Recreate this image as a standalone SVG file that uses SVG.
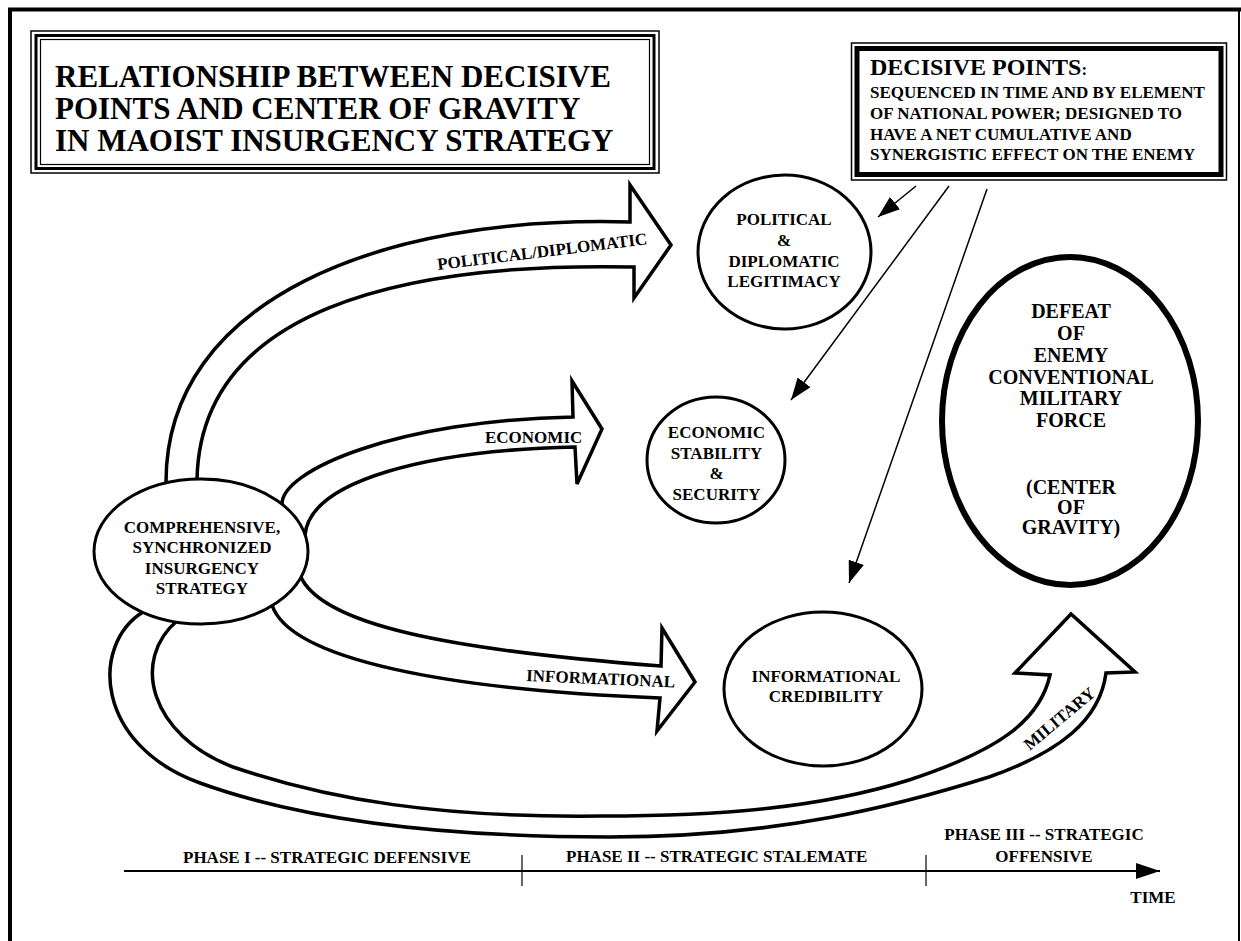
<svg xmlns="http://www.w3.org/2000/svg" width="1241" height="941" viewBox="0 0 1241 941" font-family="'Liberation Serif', 'DejaVu Serif', serif">
<style>
text{font-family:'Liberation Serif','DejaVu Serif',serif;font-weight:bold;fill:#000}
.t17{font-size:17px}
.c{text-anchor:middle}
.node{fill:#fff;stroke:#000;stroke-width:3}
.flow{fill:#fff;stroke:#000;stroke-width:3.5;stroke-linejoin:miter}
.thin{fill:none;stroke:#000;stroke-width:1.5}
</style>
<defs>
<marker id="ah" markerUnits="userSpaceOnUse" markerWidth="22" markerHeight="16" refX="22" refY="8" orient="auto">
<path d="M0,0 L22,8 L0,16 z" fill="#000"/>
</marker>
<marker id="th" markerUnits="userSpaceOnUse" markerWidth="24" markerHeight="16" refX="24" refY="8" orient="auto">
<path d="M0,0 L24,8 L0,16 z" fill="#000"/>
</marker>
</defs>
<rect width="1241" height="941" fill="#fff"/>
<g id="frame">
<line x1="8" y1="9.5" x2="1241" y2="9.5" stroke="#000" stroke-width="4"/>
<line x1="10" y1="8" x2="10" y2="941" stroke="#000" stroke-width="4"/>
<line x1="1239" y1="8" x2="1239" y2="941" stroke="#000" stroke-width="2"/>
</g>
<g id="title">
<rect x="31" y="31" width="628" height="142" fill="#fff" stroke="#000" stroke-width="1.5"/>
<rect x="36" y="35.5" width="618" height="133" fill="none" stroke="#000" stroke-width="3"/>
<rect x="40.5" y="39.5" width="609" height="125" fill="none" stroke="#000" stroke-width="1.2"/>
<text x="55" y="87" font-size="31">RELATIONSHIP BETWEEN DECISIVE</text>
<text x="55" y="119" font-size="31">POINTS AND CENTER OF GRAVITY</text>
<text x="55" y="151" font-size="31">IN MAOIST INSURGENCY STRATEGY</text>
</g>
<g id="decisive-points">
<rect x="851.5" y="43" width="375" height="137" fill="#fff" stroke="#000" stroke-width="1.5"/>
<rect x="857" y="48.5" width="364" height="126" fill="none" stroke="#000" stroke-width="5"/>
<text x="870" y="75" font-size="24">DECISIVE POINTS<tspan font-size="17">:</tspan></text>
<text class="t17" x="870" y="98">SEQUENCED IN TIME AND BY ELEMENT</text>
<text class="t17" x="870" y="119">OF NATIONAL POWER; DESIGNED TO</text>
<text class="t17" x="870" y="140">HAVE A NET CUMULATIVE AND</text>
<text class="t17" x="870" y="160">SYNERGISTIC EFFECT ON THE ENEMY</text>
</g>
<g id="flows">
<path id="flow-military" class="flow" d="M143,612 C90,645 95,745 200,783 C305,821 450,837 609,837 C780,837 900,805 989,777 C1060,752 1100,720 1106,673 L1135,672 L1071,614 L1015,673 L1050,675 C1040,720 1000,750 909,780 C820,808 720,816 602,816 C440,818 330,800 233,767 C150,735 130,660 178,620 L165,600 Z"/>
<path id="flow-informational" class="flow" d="M290,580 L300,575 C320,625 450,650 661,666 L662,628 L695,682 L657,731 L660,698 C450,690 290,660 272,605 L285,590 Z"/>
<path id="flow-economic" class="flow" d="M280,515 L282,505 C280,470 400,420 573,417 L572,381 L602,429 L577,484 L575,447 C430,450 310,480 305,535 L295,540 Z"/>
<path id="flow-political" class="flow" d="M166,495 L166,482 C166,300 380,215 630,222 L630,185 L671,245 L634,298 L634,267 C400,262 200,310 197,480 L197,495 Z"/>
<text class="t17" x="438" y="270" transform="rotate(-7 438 270)">POLITICAL/DIPLOMATIC</text>
<text class="t17" x="485" y="443">ECONOMIC</text>
<text class="t17" x="526" y="681" transform="rotate(2.5 526 681)">INFORMATIONAL</text>
<text class="t17 c" x="1063" y="723" transform="rotate(-40 1063 723)">MILITARY</text>
</g>
<g id="strategy">
<ellipse class="node" cx="201" cy="551.5" rx="107" ry="72.5"/>
<text class="t17 c" x="202" y="533">COMPREHENSIVE,</text>
<text class="t17 c" x="202" y="553">SYNCHRONIZED</text>
<text class="t17 c" x="202" y="574">INSURGENCY</text>
<text class="t17 c" x="202" y="594">STRATEGY</text>
</g>
<g id="political">
<ellipse class="node" cx="784.5" cy="252" rx="86.5" ry="77"/>
<text class="t17 c" x="784" y="225">POLITICAL</text>
<text class="t17 c" x="784" y="246">&amp;</text>
<text class="t17 c" x="784" y="267">DIPLOMATIC</text>
<text class="t17 c" x="784" y="287">LEGITIMACY</text>
</g>
<g id="economic">
<ellipse class="node" cx="716" cy="460" rx="69" ry="63"/>
<text class="t17 c" x="716.5" y="438">ECONOMIC</text>
<text class="t17 c" x="716.5" y="459">STABILITY</text>
<text class="t17 c" x="716.5" y="479">&amp;</text>
<text class="t17 c" x="716.5" y="500">SECURITY</text>
</g>
<g id="informational">
<ellipse class="node" cx="823" cy="689" rx="99" ry="77"/>
<text class="t17 c" x="826" y="682">INFORMATIONAL</text>
<text class="t17 c" x="826" y="702">CREDIBILITY</text>
</g>
<g id="center-of-gravity">
<ellipse cx="1070" cy="421" rx="128" ry="164" fill="#fff" stroke="#000" stroke-width="6"/>
<g font-size="20" text-anchor="middle">
<text x="1071" y="318">DEFEAT</text>
<text x="1071" y="340">OF</text>
<text x="1071" y="362">ENEMY</text>
<text x="1071" y="384">CONVENTIONAL</text>
<text x="1071" y="405">MILITARY</text>
<text x="1071" y="427">FORCE</text>
<text x="1071" y="494">(CENTER</text>
<text x="1071" y="514">OF</text>
<text x="1071" y="534">GRAVITY)</text>
</g>
</g>
<g id="connectors">
<line class="thin" x1="916" y1="186" x2="878" y2="217" marker-end="url(#ah)"/>
<line class="thin" x1="949" y1="186" x2="791" y2="400" marker-end="url(#ah)"/>
<line class="thin" x1="987" y1="189" x2="849" y2="583" marker-end="url(#ah)"/>
</g>
<g id="timeline">
<line x1="124" y1="871" x2="1160" y2="871" stroke="#000" stroke-width="2" marker-end="url(#th)"/>
<line x1="522" y1="855" x2="522" y2="886" stroke="#000" stroke-width="1.2"/>
<line x1="926" y1="855" x2="926" y2="886" stroke="#000" stroke-width="1.2"/>
<text class="t17" x="183" y="863">PHASE I -- STRATEGIC DEFENSIVE</text>
<text class="t17" x="566" y="862">PHASE II -- STRATEGIC STALEMATE</text>
<text class="t17 c" x="1044" y="840">PHASE III -- STRATEGIC</text>
<text class="t17 c" x="1044" y="862">OFFENSIVE</text>
<text class="t17 c" x="1153" y="903">TIME</text>
</g>
</svg>
